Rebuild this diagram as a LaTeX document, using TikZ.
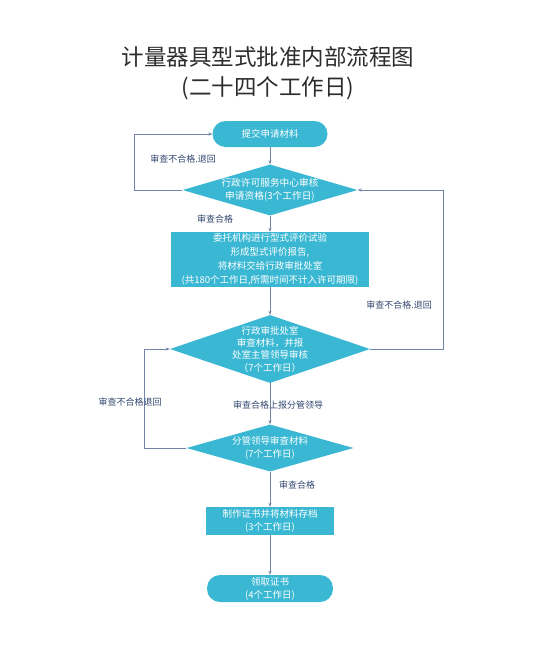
\documentclass[tikz,border=0pt]{standalone}
\usepackage{fontspec}
\newfontfamily\cjk{Noto Sans CJK SC}
\usetikzlibrary{shapes.geometric,arrows.meta}
\definecolor{boxfill}{RGB}{58,184,211}
\definecolor{linec}{RGB}{112,132,168}
\definecolor{labc}{RGB}{50,72,112}
\definecolor{titlec}{RGB}{45,45,45}
\begin{document}
\begin{tikzpicture}[x=1pt,y=-1pt,
  txt/.style={text=white,font=\cjk\fontsize{9.5}{13}\selectfont,align=center,inner sep=0pt},
  rbox/.style={fill=boxfill,draw=none,rounded corners=13pt,inner sep=0pt},
  sbox/.style={fill=boxfill,draw=none,inner sep=0pt},
  dia/.style={diamond,fill=boxfill,draw=none,inner sep=0pt},
  lab/.style={text=labc,font=\cjk\fontsize{9}{11}\selectfont,inner sep=0pt},
  arr/.style={draw=linec,line width=0.6pt,-{Stealth[length=4pt,width=3pt]}}
]
\useasboundingbox[fill=white] (0,0) rectangle (536,659);
\node[text=titlec,font=\cjk\fontsize{22.5}{30}\selectfont,align=center] (title) at (268,73) {计量器具型式批准内部流程图\\(二十四个工作日)};

\node[rbox,minimum width=115pt,minimum height=26pt,txt] (start) at (270,134) {提交申请材料};
\node[dia,minimum width=175pt,minimum height=51pt,label={[txt,text=white,font=\cjk\fontsize{9.7}{13}\selectfont]center:{行政许可服务中心审核\\申请资格(3个工作日)}}] (d1) at (270,190) {};
\node[sbox,minimum width=198pt,minimum height=55pt,txt,font=\cjk\fontsize{9.5}{13.8}\selectfont] (r2) at (270,259.5) {委托机构进行型式评价试验\\形成型式评价报告,\\将材料交给行政审批处室\\(共180个工作日,所需时间不计入许可期限)};
\node[dia,minimum width=200pt,minimum height=68pt,label={[txt,font=\cjk\fontsize{9.5}{12.3}\selectfont]center:{行政审批处室\\审查材料，并报\\处室主管领导审核\\（7个工作日）}}] (d2) at (270,349) {};
\node[dia,minimum width=167pt,minimum height=47pt,label={[txt,font=\cjk\fontsize{9.5}{13}\selectfont]center:{分管领导审查材料\\(7个工作日)}}] (d3) at (270,448) {};
\node[sbox,minimum width=128pt,minimum height=28pt,txt] (r3) at (270,521) {制作证书并将材料存档\\(3个工作日)};
\node[rbox,minimum width=126pt,minimum height=27pt,txt] (end) at (270,588.5) {领取证书\\(4个工作日)};

\coordinate (l1) at (134,190);
\coordinate (rr) at (443,349);
\coordinate (l2) at (144,448);

\draw[arr] (start) -- (d1);
\draw[arr] (d1) -- (r2);
\draw[arr] (r2) -- (d2);
\draw[arr] (d2) -- (d3);
\draw[arr] (d3) -- (r3);
\draw[arr] (r3) -- (end);
\draw[arr] (d1.west) -- (l1) |- (start.west);
\draw[arr] (d2.east) -- (rr) |- (d1.east);
\draw[arr] (d3.west) -- (l2) |- (d2.west);

\node[lab] (t1) at (183,159) {审查不合格.退回};
\node[lab] (t2) at (215,219) {审查合格};
\node[lab] (t3) at (399,305) {审查不合格.退回};
\node[lab] (t4) at (130,402) {审查不合格退回};
\node[lab] (t5) at (278,405) {审查合格上报分管领导};
\node[lab] (t6) at (297,485) {审查合格};
\end{tikzpicture}
\end{document}
